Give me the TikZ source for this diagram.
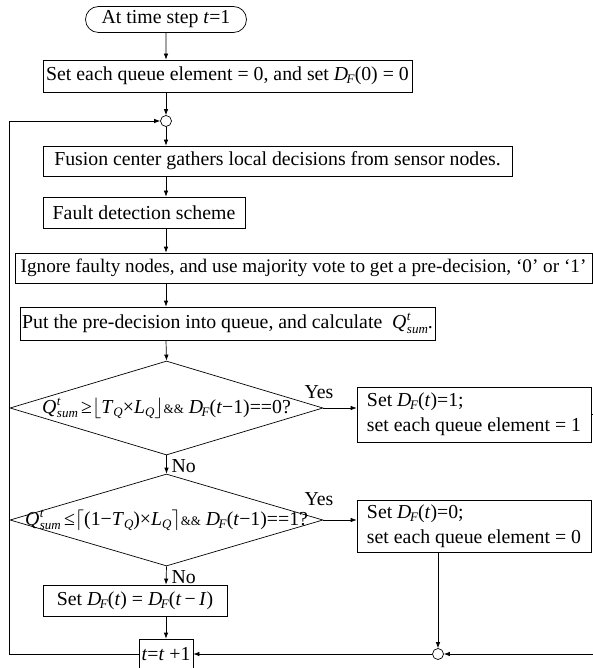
\documentclass[tikz,border=0pt]{standalone}
\usepackage{fontspec}
\setmainfont{Liberation Serif}
\usetikzlibrary{shapes.geometric,shapes.misc,arrows.meta}
\newcommand\smallf[1]{{\fontsize{13}{13}\selectfont #1}}
\newcommand\DF{\textit{D}\kern-1.5pt\raisebox{-0.35ex}{\smallf{\textit{F}}}}
\newcommand\Qs{\textit{Q}\kern0.5pt\rlap{\raisebox{0.85ex}{\smallf{\textit{t}}}}\raisebox{-0.5ex}{\smallf{\textit{sum}}}}
\newcommand\TQ{\textit{T}\raisebox{-0.35ex}{\smallf{\textit{Q}}}}
\newcommand\LQ{\textit{L}\raisebox{-0.35ex}{\smallf{\textit{Q}}}}
\begin{document}
\begin{tikzpicture}[x=1pt,y=-1pt,font=\fontsize{19.8}{25}\selectfont,line width=0.7pt,
  box/.style={draw, rectangle, inner sep=2pt},
  arr/.style={-{Latex[length=6pt,width=4.5pt]}},
  junct/.style={draw, circle, minimum size=11pt, inner sep=0pt},
  decide/.style={draw, diamond, inner sep=0pt, minimum width=313pt}]
\useasboundingbox (0,0) rectangle (593,668);
\node[draw, rounded rectangle, minimum width=165pt, minimum height=26pt, inner sep=2pt] (term) at (166,19.5) {At time step \textit{t}=1};
\node[box, minimum width=369pt, minimum height=32pt] (b1) at (227.5,76) {Set each queue element = 0, and set \DF(0) = 0};
\node[junct] (ctop) at (166,121) {};
\node[box, minimum width=469pt, minimum height=30pt] (b2) at (277.5,161) {Fusion center gathers local decisions from sensor nodes.};
\node[box, minimum width=202pt, minimum height=31pt] (b3) at (144,212.5) {Fault detection scheme};
\node[box, minimum width=577pt, minimum height=30pt, font=\fontsize{19.2}{23}\selectfont] (b4) at (303.5,268) {Ignore faulty nodes, and use majority vote to get a pre-decision, ‘0’ or ‘1’};
\node[box, minimum width=369pt, minimum height=33pt] (b5) at (227.5,323.5) {Put the pre-decision into queue, and calculate \ \Qs.};
\node[decide, minimum height=94pt] (d1) at (166.5,408) {};
\node at (d1.center) {\Qs\,≥$\lfloor$\TQ×\LQ$\rfloor${\smallf{\&\&}} \DF(\textit{t}−1)==0?};
\node[box, minimum width=234pt, minimum height=55pt, align=left] (b6) at (474,414.5) {Set \DF(\textit{t})=1;\\set each queue element = 1};
\node[decide, minimum height=92pt] (d2) at (166.5,520) {};
\node at (d2.center) {\Qs\,≤$\lceil$(1−\TQ)×\LQ$\rceil${\smallf{\&\&}} \DF(\textit{t}−1)==1?};
\node[box, minimum width=234pt, minimum height=52pt, align=left] (b7) at (474,526) {Set \DF(\textit{t})=0;\\set each queue element = 0};
\node[box, minimum width=184pt, minimum height=31pt] (b8) at (135,600.5) {Set \DF(\textit{t}) = \DF(\textit{t}\,−\,\textit{I})};
\node[box, minimum width=54pt, minimum height=30pt] (b9) at (166,654) {\textit{t}=\textit{t} +1};
\node[junct] (cbot) at (438,654) {};
\coordinate (cl) at (9,654);
\coordinate (cr) at (593,654);
\node at (319,392) {Yes};
\node at (319,499) {Yes};
\node[anchor=west] at (168,466) {No};
\node[anchor=west] at (168,577) {No};
% connectors
\draw[arr] (term) -- (ctop |- b1.north);
\draw[arr] (ctop |- b1.south) -- (ctop);
\draw[arr] (ctop) -- (ctop |- b2.north);
\draw[arr] (ctop |- b2.south) -- (ctop |- b3.north);
\draw[arr] (ctop |- b3.south) -- (ctop |- b4.north);
\draw[arr] (ctop |- b4.south) -- (ctop |- b5.north);
\draw[arr] (ctop |- b5.south) -- (d1.north);
\draw[arr] (d1.east) -- (d1.east -| b6.west);
\draw (b6.east) -- (b6.east -| cr);
\draw[arr] (d1.south) -- (d2.north);
\draw[arr] (d2.east) -- (d2.east -| b7.west);
\draw[arr] (d2.south) -- (ctop |- b8.north);
\draw[arr] (ctop |- b8.south) -- (b9);
\draw[arr] (b7.south -| cbot) -- (cbot);
\draw[arr] (cr) -- (cbot);
\draw[arr] (cbot) -- (b9);
\draw[arr] (b9.west) -- (cl) |- (ctop.west);
\end{tikzpicture}
\end{document}
